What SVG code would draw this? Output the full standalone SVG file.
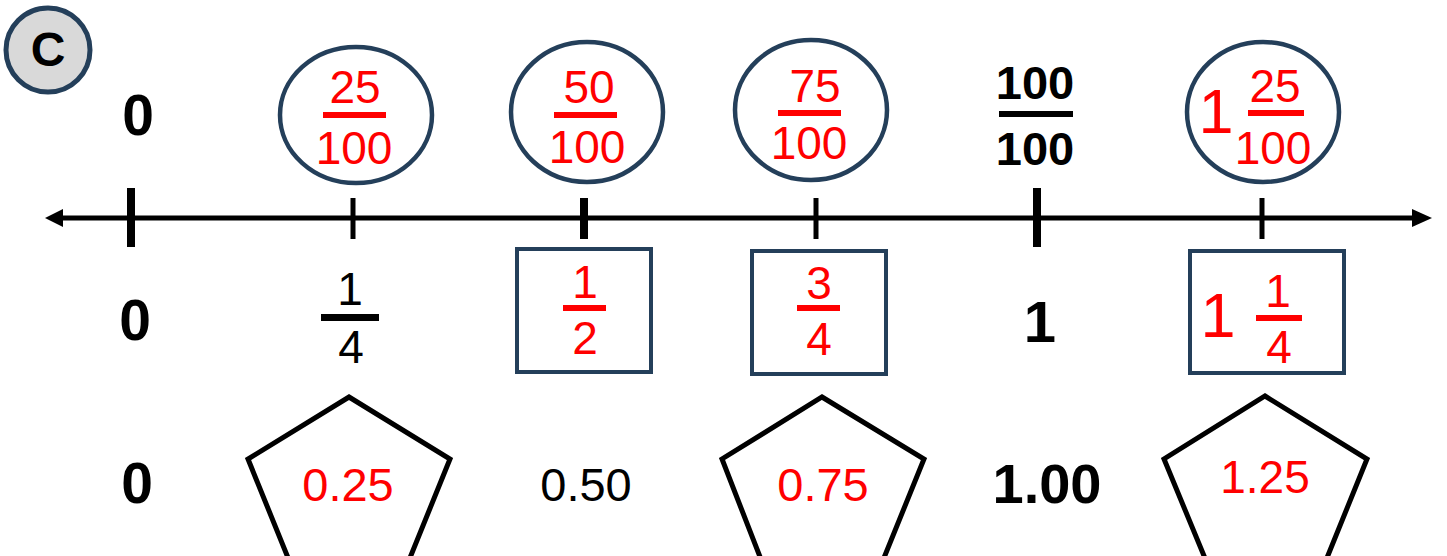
<svg xmlns="http://www.w3.org/2000/svg" width="1447" height="556" viewBox="0 0 1447 556">
<defs>
<style>
.t{font-family:"Liberation Sans",Arial,sans-serif;}
.r{fill:#ff0000;}
.k{fill:#000;}
.b{font-weight:bold;}
.ov{fill:none;stroke:#243f5a;stroke-width:4.5;}
.bx{fill:none;stroke:#243f5a;stroke-width:4;}
.pg{fill:none;stroke:#000;stroke-width:5;stroke-linejoin:miter;}
.tk{stroke:#000;}
</style>
</defs>
<rect width="1447" height="556" fill="#fff"/>
<g id="badge">
<circle cx="48" cy="50" r="42" fill="#d9d9d9" stroke="#243f5a" stroke-width="5"/>
<text class="t b k" x="48" y="66" font-size="48" text-anchor="middle">C</text>
</g>
<g id="connectors">
<line x1="58" y1="218" x2="1418" y2="218" stroke="#000" stroke-width="5"/>
<polygon points="45,218 63,209 63,227" fill="#000"/>
<polygon points="1432,218 1412,209 1412,227" fill="#000"/>
<line class="tk" x1="131" y1="188" x2="131" y2="247" stroke-width="8"/>
<line class="tk" x1="353" y1="198" x2="353" y2="239" stroke-width="5"/>
<line class="tk" x1="584" y1="198" x2="584" y2="239" stroke-width="8"/>
<line class="tk" x1="816" y1="198" x2="816" y2="239" stroke-width="5"/>
<line class="tk" x1="1037" y1="188" x2="1037" y2="247" stroke-width="8"/>
<line class="tk" x1="1262" y1="198" x2="1262" y2="239" stroke-width="5"/>
</g>
<g id="top-0"><text class="t b k" x="138" y="135" font-size="57" text-anchor="middle">0</text></g>
<g id="top-25-100">
<ellipse class="ov" cx="356" cy="115" rx="76" ry="68"/>
<text class="t r" x="355" y="103" font-size="46" text-anchor="middle">25</text>
<rect class="r" x="323" y="112" width="63" height="6"/>
<text class="t r" x="354" y="164" font-size="46" text-anchor="middle">100</text>
</g>
<g id="top-50-100">
<ellipse class="ov" cx="587" cy="112" rx="76" ry="70"/>
<text class="t r" x="589" y="103" font-size="46" text-anchor="middle">50</text>
<rect class="r" x="554" y="112" width="63" height="6"/>
<text class="t r" x="587" y="163" font-size="46" text-anchor="middle">100</text>
</g>
<g id="top-75-100">
<ellipse class="ov" cx="811" cy="110" rx="76" ry="70"/>
<text class="t r" x="815" y="102" font-size="46" text-anchor="middle">75</text>
<rect class="r" x="778" y="110" width="63" height="6"/>
<text class="t r" x="809" y="159" font-size="46" text-anchor="middle">100</text>
</g>
<g id="top-100-100">
<text class="t b k" x="1035" y="99" font-size="47" text-anchor="middle">100</text>
<rect class="k" x="999" y="111" width="74" height="6"/>
<text class="t b k" x="1035" y="165" font-size="47" text-anchor="middle">100</text>
</g>
<g id="top-1-25-100">
<ellipse class="ov" cx="1263" cy="112" rx="76" ry="70"/>
<text class="t r" x="1216" y="133" font-size="63" text-anchor="middle">1</text>
<text class="t r" x="1275" y="102" font-size="46" text-anchor="middle">25</text>
<rect class="r" x="1248" y="110" width="56" height="6"/>
<text class="t r" x="1273" y="164" font-size="46" text-anchor="middle">100</text>
</g>
<g id="mid-0"><text class="t b k" x="135" y="340" font-size="57" text-anchor="middle">0</text></g>
<g id="mid-1-4">
<text class="t k" x="350" y="305" font-size="46" text-anchor="middle">1</text>
<rect class="k" x="321" y="314" width="58" height="7"/>
<text class="t k" x="351" y="363" font-size="46" text-anchor="middle">4</text>
</g>
<g id="mid-1-2">
<rect class="bx" x="517" y="249" width="134" height="123"/>
<text class="t r" x="585" y="298" font-size="46" text-anchor="middle">1</text>
<rect class="r" x="563" y="305" width="43" height="6"/>
<text class="t r" x="585" y="354" font-size="46" text-anchor="middle">2</text>
</g>
<g id="mid-3-4">
<rect class="bx" x="752" y="251" width="134" height="123"/>
<text class="t r" x="819" y="299" font-size="46" text-anchor="middle">3</text>
<rect class="r" x="797" y="305" width="43" height="6"/>
<text class="t r" x="819" y="355" font-size="46" text-anchor="middle">4</text>
</g>
<g id="mid-1"><text class="t b k" x="1040" y="342" font-size="58" text-anchor="middle">1</text></g>
<g id="mid-1-1-4">
<rect class="bx" x="1190" y="251" width="154" height="122"/>
<text class="t r" x="1218" y="337" font-size="63" text-anchor="middle">1</text>
<text class="t r" x="1278" y="307" font-size="46" text-anchor="middle">1</text>
<rect class="r" x="1256" y="315" width="46" height="6"/>
<text class="t r" x="1279" y="363" font-size="46" text-anchor="middle">4</text>
</g>
<g id="bot-0"><text class="t b k" x="137" y="503" font-size="57" text-anchor="middle">0</text></g>
<g id="bot-0-25">
<polygon class="pg" points="349,397 450,459 401,580 297,580 248,459"/>
<text class="t r" x="348" y="501" font-size="47" text-anchor="middle">0.25</text>
</g>
<g id="bot-0-50"><text class="t k" x="586" y="501" font-size="47" text-anchor="middle">0.50</text></g>
<g id="bot-0-75">
<polygon class="pg" points="822,397 924,459 875,580 769,580 722,459"/>
<text class="t r" x="823" y="501" font-size="47" text-anchor="middle">0.75</text>
</g>
<g id="bot-1-00"><text class="t b k" x="1047" y="503" font-size="56" text-anchor="middle">1.00</text></g>
<g id="bot-1-25">
<polygon class="pg" points="1265,396 1367,459 1318,580 1214,580 1164,459"/>
<text class="t r" x="1265" y="493" font-size="46" text-anchor="middle">1.25</text>
</g>
</svg>
